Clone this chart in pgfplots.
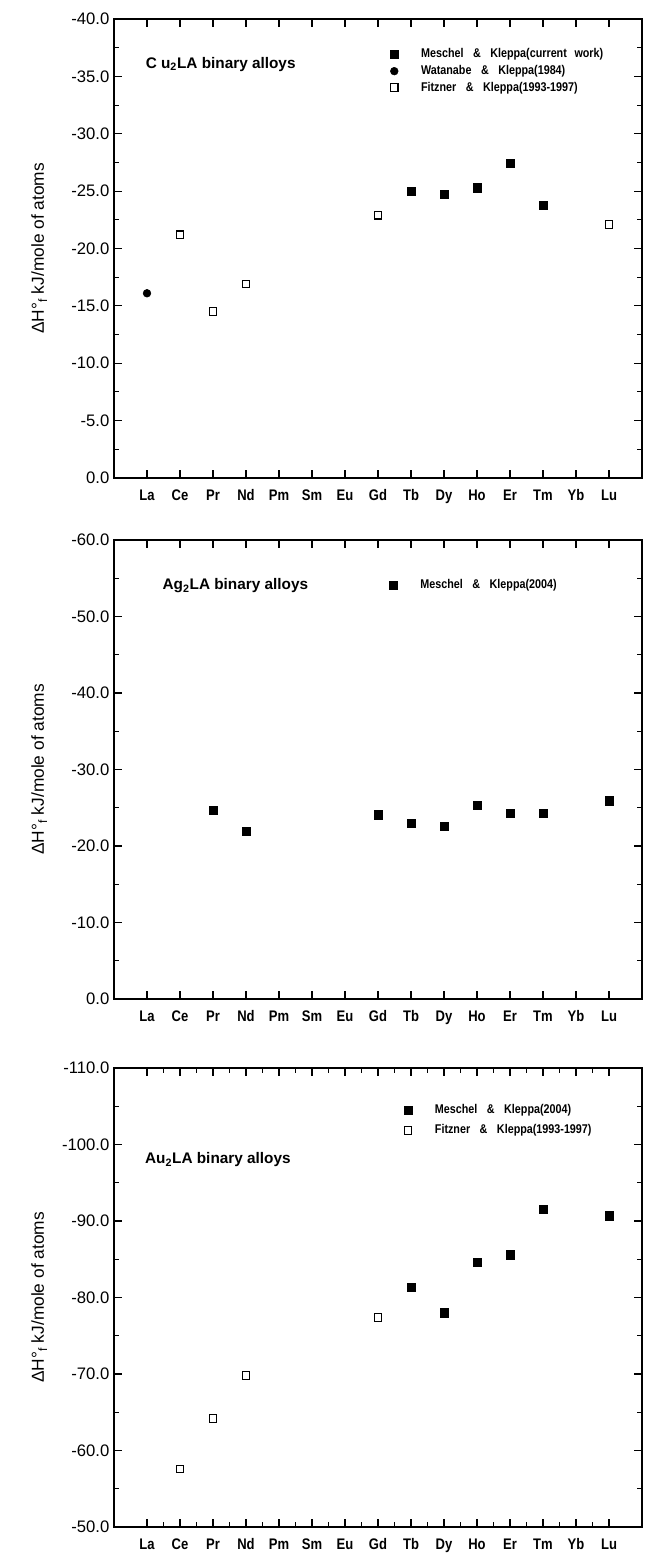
\documentclass[border=0pt]{standalone}
\usepackage{pgfplots}
\pgfplotsset{compat=1.18}
\usepackage{fontspec}
\setmainfont{Liberation Sans}
\newfontfamily\legfont[FakeStretch=0.85]{Liberation Sans}
\newfontfamily\tickfont[FakeStretch=0.85]{Liberation Sans}
\newcommand{\amp}{\hspace{0.75em}\&\hspace{0.75em}}
\tikzset{ttl/.style={anchor=west, font=\bfseries\fontsize{11.5}{13}\selectfont}}

\pgfplotsset{
 panel/.style={
  scale only axis, width=396pt, height=344.25pt,
  anchor=north west,
  xmin=0, xmax=16, xtick={1,...,15},
  xticklabels={La,Ce,Pr,Nd,Pm,Sm,Eu,Gd,Tb,Dy,Ho,Er,Tm,Yb,Lu},
  xticklabel style={font=\tickfont\bfseries\fontsize{11.5}{12}\selectfont, anchor=base, text height=8.5pt, text depth=2.5pt, yshift=-17pt},
  yticklabel style={font=\fontsize{12.5}{14}\selectfont, /pgf/number format/.cd, fixed, fixed zerofill, precision=1, assume math mode=true},
  y dir=reverse,
  major tick length=6pt, minor tick length=3.5pt,
  tick style={black, line width=0.8pt},
  axis line style={line width=1pt},
  ylabel={ΔH°\textsubscript{f} kJ/mole of atoms},
  ylabel style={at={(axis description cs:-0.1415,0.5)}, anchor=center, font=\fontsize{13}{15}\selectfont},
  legend cell align=left,
  legend image code/.code={\draw[mark repeat=1,mark phase=1,##1] plot coordinates {(0pt,0pt)};},
  legend style={draw=none, fill=none, inner sep=0pt, anchor=north west,
    font=\legfont\bfseries\fontsize{9.5}{10}\selectfont,
    nodes={inner sep=0.5pt, text height=7pt, text depth=2pt},
    row sep=2.4pt,
    /tikz/every odd column/.append style={column sep=16.5pt}},
 },
 filledsq/.style={black, only marks, mark=square*, mark size=3.1pt, mark options={fill=black, draw=black}},
 opensq/.style={black, only marks, mark=square, mark size=2.8pt, mark options={draw=black, line width=0.8pt}},
 filledci/.style={black, only marks, mark=*, mark size=2.9pt, mark options={fill=black}},
}

\begin{document}
\begin{tikzpicture}
\useasboundingbox (-85.5pt,14.25pt) rectangle (400.5pt,-1151.25pt);

% Panel 1: Cu2LA
\begin{axis}[panel, at={(0pt,0pt)},
  ymin=-40, ymax=0, ytick={-40,-35,...,0}, minor y tick num=1,
  legend style={at={(axis cs:8.36,-37.5)}}]
\addplot[filledsq] coordinates {(9,-25.0) (10,-24.7) (11,-25.3) (12,-27.4) (13,-23.8)};
\addlegendentry{Meschel\amp Kleppa(current\hspace{0.6em}work)}
\addplot[filledci] coordinates {(1,-16.1)};
\addlegendentry{Watanabe\amp Kleppa(1984)}
\addplot[opensq] coordinates {(2,-21.2) (3,-14.5) (4,-16.9) (8,-22.9) (15,-22.1)};
\addlegendentry{Fitzner\amp Kleppa(1993-1997)}
\node[ttl] at (axis cs:0.82,-36.05) {C u\textsubscript{2}LA binary alloys};
\end{axis}

% Panel 2: Ag2LA
\begin{axis}[panel, at={(0pt,-390.75pt)},
  ymin=-60, ymax=0, ytick={-60,-50,...,0}, minor y tick num=1,
  legend style={at={(axis cs:8.34,-54.96)}}]
\addplot[filledsq] coordinates {(3,-24.7) (4,-21.9) (8,-24.1) (9,-23.0) (10,-22.6) (11,-25.3) (12,-24.3) (13,-24.3) (15,-25.9)};
\addlegendentry{Meschel\amp Kleppa(2004)}
\node[ttl] at (axis cs:1.33,-54.0) {Ag\textsubscript{2}LA binary alloys};
\end{axis}

% Panel 3: Au2LA
\begin{axis}[panel, at={(0pt,-786.75pt)},
  ymin=-110, ymax=-50, ytick={-110,-100,...,-50}, minor y tick num=1,
  minor x tick num=1,
  legend style={at={(axis cs:8.78,-105.36)}, row sep=5pt}]
\addplot[filledsq] coordinates {(9,-81.3) (10,-78.0) (11,-84.6) (12,-85.6) (13,-91.5) (15,-90.7)};
\addlegendentry{Meschel\amp Kleppa(2004)}
\addplot[opensq] coordinates {(2,-57.6) (3,-64.2) (4,-69.8) (8,-77.4)};
\addlegendentry{Fitzner\amp Kleppa(1993-1997)}
\node[ttl] at (axis cs:0.8,-98.0) {Au\textsubscript{2}LA binary alloys};
\end{axis}
\end{tikzpicture}
\end{document}
